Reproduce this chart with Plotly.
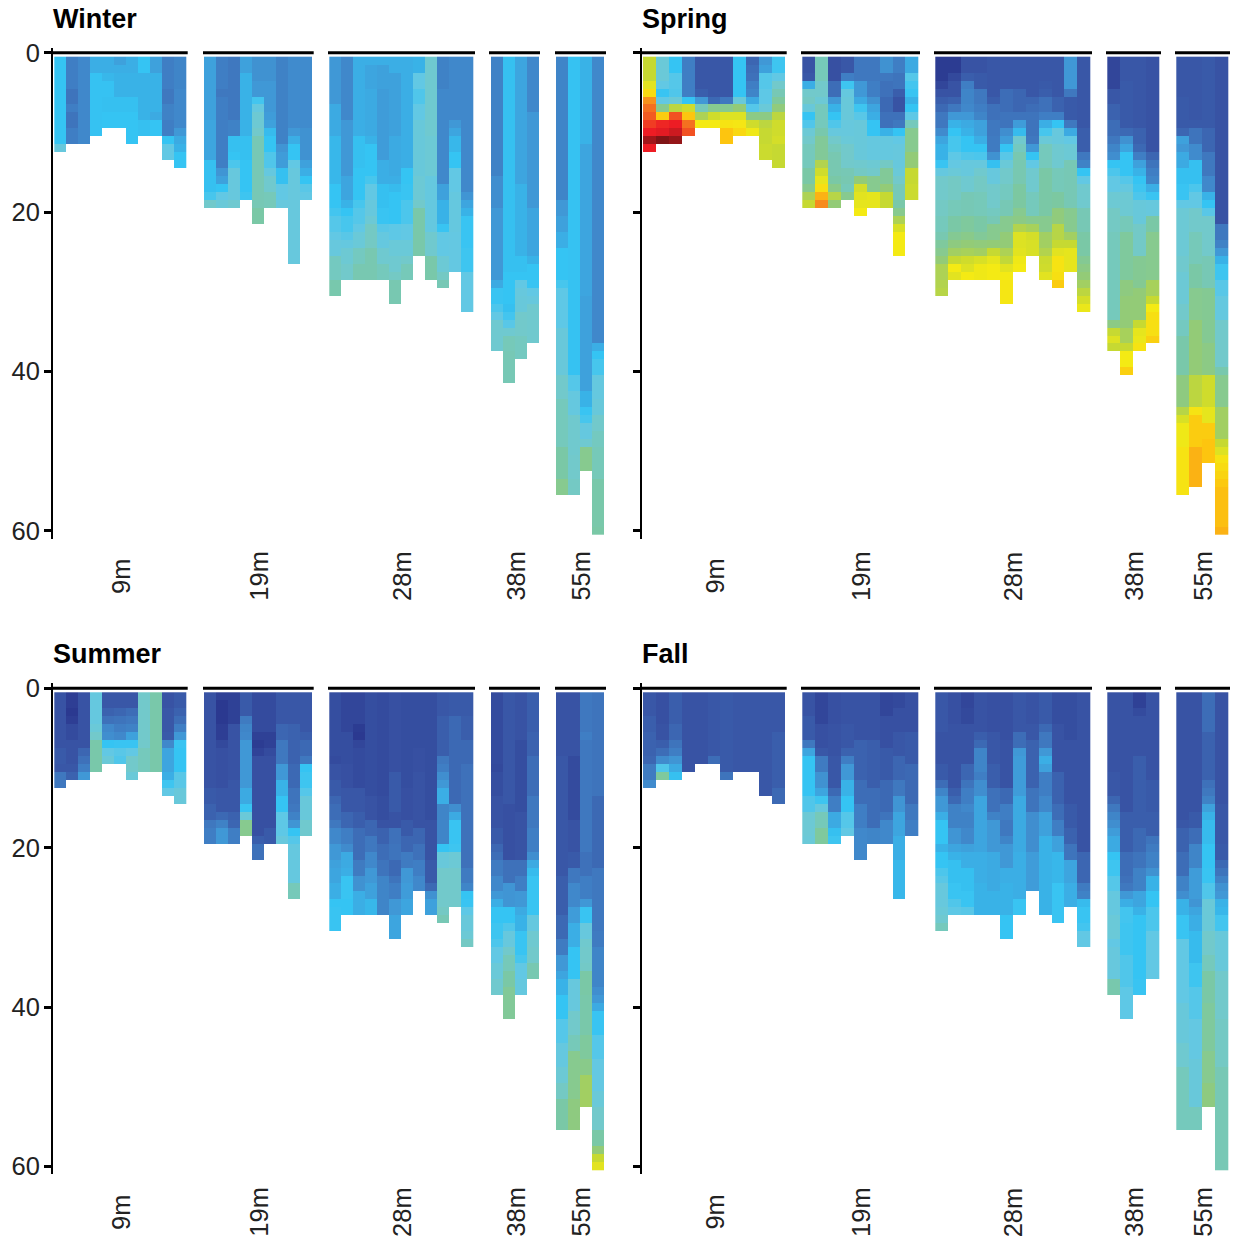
import plotly.graph_objects as go

# Each column is a list of (last_depth_row, level) runs.
GROUPS = ["9m", "19m", "28m", "38m", "55m"]
TICKS = [0, 20, 40, 60]
SEASONS = ["Winter", "Spring", "Summer", "Fall"]

WINTER_9M = [
 [(11,4),(12,5.3)],
 [(4,2.2),(6,1.9),(7,2.2),(9,1.9),(11,2.2)],
 [(11,2.5)],
 [(2,3.5),(10,3.95)],
 [(2,3.5),(3,3.7),(5,3.95),(7,3.9),(9,4)],
 [(1,3.2),(2,3.5),(5,3.6),(7,3.9),(9,4)],
 [(2,3.5),(5,3.6),(7,3.9),(11,4)],
 [(2,4),(8,3.6),(10,3.9)],
 [(2,3.2),(7,3.6),(8,3.4),(10,4)],
 [(4,2.2),(6,2),(8,2.3),(10,2.2),(11,4),(13,5)],
 [(4,2.4),(9,2.5),(10,3),(11,3.4),(12,3.6),(14,4)],
]
WINTER_19M = [
 [(8,3.2),(13,3.3),(17,3.9),(18,4.4),(19,6)],
 [(4,2.2),(5,2),(14,2.2),(15,2.9),(16,3.2),(17,4),(18,5),(19,5.5)],
 [(8,2),(10,2.3),(12,3.9),(13,4),(14,4.5),(18,5.3),(19,5.8)],
 [(2,3.2),(10,3.6),(13,3.9),(17,4),(18,4.2)],
 [(3,2.8),(5,3),(6,4.3),(7,5.2),(9,5.7),(10,6),(19,6.6),(21,7)],
 [(3,2.8),(7,3),(8,3.1),(9,3.2),(10,3.8),(12,4),(14,4.6),(15,5.2),(17,5.9),(19,6.5)],
 [(11,2.3),(12,2.9),(14,3.1),(16,3.9),(18,5),(19,5.3)],
 [(9,2.6),(10,3),(11,3.5),(13,4),(14,5),(26,5.3)],
 [(9,2.6),(13,2.8),(14,3.2),(15,3.5),(16,4),(17,4.8),(18,5)],
]
WINTER_28M = [
 [(6,3),(10,3.4),(16,3.7),(19,4),(20,4.3),(22,4.7),(23,5),(25,5.3),(28,6.3),(30,6.8)],
 [(8,2.5),(15,3),(18,3.3),(19,3.6),(20,4),(22,4.4),(23,4.8),(24,5.2),(26,5.7),(28,6)],
 [(10,3.5),(14,3.9),(18,4),(19,4.4),(21,4.7),(22,5),(24,5.5),(26,6.3),(28,6.7)],
 [(1,3.5),(4,3.3),(10,3.4),(11,3.6),(15,4),(16,4.4),(18,5),(20,5.3),(21,5.6),(24,6.2),(28,6.7)],
 [(1,3.5),(4,3.2),(13,3.1),(16,3.5),(19,3.9),(21,4.1),(22,4.8),(24,5.2),(26,5.8),(28,6.4)],
 [(2,3.5),(10,3.2),(15,3.4),(16,3.5),(17,3.8),(21,4),(23,4.9),(25,5.5),(27,5.8),(28,6.2),(31,6.7)],
 [(14,3.5),(16,4),(18,4.1),(21,4.5),(23,5),(25,5.5),(26,6),(28,6.5)],
 [(2,3.6),(4,5),(6,4.6),(8,5),(15,5.4),(18,5.6),(19,6),(25,6.9)],
 [(10,5.8),(15,5.6),(22,5.2),(25,5.9),(28,6.9)],
 [(4,2.3),(8,2.5),(16,2.5),(18,3.2),(21,3.6),(22,4.1),(25,5),(27,5.6),(28,6.2),(29,6.6)],
 [(8,2.5),(9,3),(10,3.3),(12,3.7),(14,4),(17,5),(22,5.2),(27,5.1)],
 [(17,2.5),(18,2.9),(19,3.3),(20,3.6),(24,4.1),(27,4.2),(32,5)],
]
WINTER_38M = [
 [(15,2.3),(19,2.7),(28,3),(29,3.4),(31,4.1),(32,4.5),(33,5),(37,5.8)],
 [(27,3.9),(31,4),(32,3.9),(33,4.3),(34,4.8),(35,5.8),(37,6.5),(41,6.6)],
 [(16,3.3),(25,3.6),(27,3.9),(28,4),(29,5),(30,5.3),(32,5.4),(35,6),(38,6.3)],
 [(7,2.5),(19,3),(25,3.3),(26,3.6),(28,4),(29,4.1),(30,5),(31,5.3),(36,5.9)],
]
WINTER_55M = [
 [(18,2.4),(20,3),(22,3.2),(24,3.5),(28,4),(29,4.4),(34,4.9),(40,5.4),(43,6),(49,6.4),(53,7),(55,7.5)],
 [(40,3.95),(42,4.7),(45,5.2),(50,5.9),(53,6),(55,6.2)],
 [(11,3.6),(30,3.3),(42,3.2),(44,3.6),(45,4.1),(46,4.4),(48,5.2),(49,5.8),(52,7.5)],
 [(36,2.5),(37,3.5),(38,4),(40,4.4),(43,5.2),(45,5.4),(47,6),(49,6.3),(53,6.5),(59,6.9),(60,7)],
]

SPRING_9M = [
 [(3,9),(4,9.6),(5,10.4),(6,11.8),(7,12.2),(8,12.4),(9,12.7),(10,13),(11,13.7),(12,13)],
 [(3,5.5),(4,5),(5,4.1),(6,5),(7,7.5),(8,10.8),(9,12.9),(10,13.1),(11,14)],
 [(2,4),(4,4.7),(5,4.6),(6,5.5),(7,8.8),(8,12.5),(9,13),(10,13.3),(11,13.8)],
 [(5,2.2),(6,4),(7,9.2),(8,11),(9,12.2),(10,12.5)],
 [(4,1.1),(5,1.3),(6,3),(7,6.5),(8,8.5),(9,10)],
 [(5,1.1),(6,1.6),(7,7.5),(8,9.2),(9,10)],
 [(5,1.1),(6,2),(7,7.5),(8,9.5),(9,10.2),(11,11)],
 [(5,4),(6,5.5),(7,8),(8,9.5),(9,10.1),(10,10.5)],
 [(1,1.5),(2,1.7),(3,1.8),(4,2.2),(5,2.4),(6,3.4),(7,4.7),(8,7.7),(9,9.2),(10,9.9)],
 [(1,3),(2,3.2),(4,4.7),(6,4.9),(7,5.5),(8,7.7),(9,8.8),(11,9),(13,9.1)],
 [(2,4.2),(3,5),(4,6),(5,6.6),(6,7.2),(7,7.9),(8,8.8),(10,9.2),(11,9.3),(14,9)],
]
SPRING_19M = [
 [(2,1),(3,1.1),(4,3.5),(5,6),(6,6.2),(7,5.4),(8,4),(9,4.6),(10,5.6),(11,6),(14,6.4),(16,7),(17,7.5),(18,8.5),(19,9)],
 [(3,6.5),(5,6),(6,5.6),(9,6.4),(10,6.8),(13,7.3),(14,8.6),(15,9.2),(16,9.7),(17,10.3),(18,11.3),(19,11.9)],
 [(3,0.9),(5,1.7),(6,3),(7,3.6),(8,4),(9,4.6),(10,5.3),(11,6),(12,6.4),(15,6.7),(16,7),(17,7.6),(18,8.7),(19,8)],
 [(2,1.1),(3,2.2),(4,4.2),(5,5.2),(8,5.4),(10,5.3),(11,5.5),(14,6),(15,6.6),(16,6.7),(17,6.5),(18,7.5)],
 [(3,2),(5,3),(6,3.4),(7,4.2),(8,4.8),(13,5.4),(14,5.9),(15,6.2),(16,8),(17,9.3),(18,9.6),(19,9.7),(20,10)],
 [(3,2),(5,2.2),(6,2.8),(7,3.3),(8,3.5),(10,4),(13,5.2),(14,5.7),(15,6),(17,7.5),(19,9.7)],
 [(2,2.8),(3,2),(5,1.8),(7,1.6),(9,1.8),(10,3.6),(13,5.2),(14,6.2),(16,7.3),(17,8),(19,9)],
 [(2,2.2),(4,1.9),(5,1.3),(7,1),(8,1.8),(9,2),(10,4),(11,5),(14,5.3),(15,5.5),(16,6),(18,6.5),(19,6.9),(20,7.5),(21,8.5),(22,9.4),(25,10)],
 [(2,3.4),(3,4.7),(4,4.3),(5,4.1),(6,3.6),(7,4),(8,4.9),(9,6.4),(12,7.5),(14,8),(16,9),(18,9.1)],
]
SPRING_28M = [
 [(3,0.1),(4,0.5),(5,1),(6,1.3),(7,1.6),(9,2),(10,2.6),(11,3.3),(13,3.6),(14,4.1),(15,5.2),(18,6),(20,6.2),(22,6.4),(23,6.7),(24,7.2),(25,7.5),(26,8),(28,8.5),(29,8.6),(30,8.7)],
 [(2,0.1),(3,0.6),(5,1),(6,1.4),(7,2),(8,3),(9,3.6),(10,4),(12,4.4),(13,4.9),(14,5.1),(15,5.5),(18,6.2),(20,6.5),(22,7),(23,7.4),(24,7.8),(25,8.3),(26,9),(27,10),(28,9.6)],
 [(2,1),(3,1.3),(4,2.2),(6,2.4),(7,2.5),(8,3),(9,3.4),(10,3.6),(12,4),(13,4.6),(15,5.3),(17,5.8),(20,6.6),(22,7.2),(23,7.6),(24,8),(25,8.4),(26,9.2),(27,9.5),(28,10)],
 [(2,1),(4,1.2),(6,2),(7,2.2),(8,2.4),(10,3.2),(11,3.5),(12,4),(13,4.5),(14,5.3),(15,5.9),(17,6.2),(20,6.5),(22,7),(23,7.3),(24,7.9),(25,8.3),(26,9.4),(28,9.9)],
 [(5,1.1),(6,1.3),(8,1.8),(10,2),(12,2.1),(13,2.8),(14,3.9),(16,5.3),(19,6),(20,6.3),(21,6.6),(23,7.5),(24,8),(25,9),(26,9.7),(28,10)],
 [(4,1.1),(7,1.7),(9,1.9),(10,2.7),(11,3.1),(12,4),(13,4.8),(14,5.5),(16,6),(18,6.3),(20,6.6),(22,7.5),(24,8),(25,8.5),(26,8.9),(27,9.6),(28,10),(31,10.1)],
 [(4,1.1),(7,1.5),(8,1.9),(9,3.1),(10,3.8),(11,5.9),(12,6.3),(16,6.7),(19,7.1),(20,7.5),(21,7.7),(22,8.6),(24,9.5),(25,9.6),(26,9.9),(27,10)],
 [(5,1.1),(6,1.5),(7,1.7),(10,1.9),(11,2),(12,3),(13,4),(14,5),(17,5.9),(20,6.4),(21,7.5),(22,8.4),(23,9.3),(25,9.4)],
 [(3,1.1),(4,1.2),(5,1.3),(7,1.8),(8,2.2),(9,3.5),(10,4.4),(11,5.5),(14,6.4),(20,7),(22,7.5),(24,8.3),(25,8.6),(26,9.1),(27,9.2),(28,9.6)],
 [(5,1.1),(7,1.4),(8,2.2),(9,4),(11,5.3),(14,5.8),(17,6.5),(19,7.1),(21,7.9),(23,8.7),(24,9),(25,9.6),(27,10.2),(28,10.3),(29,10.8)],
 [(4,3),(5,2),(8,1.2),(9,2),(10,3.4),(11,5),(13,5.6),(19,6.6),(22,7.5),(23,8.3),(24,9),(27,9.7)],
 [(9,1.1),(12,1.3),(13,2),(14,2.3),(15,4),(16,5),(19,5.9),(22,6.6),(25,7),(26,7.4),(27,7.7),(28,8),(29,8.3),(30,8.8),(31,9.3),(32,9.8)],
]
SPRING_38M = [
 [(4,0.5),(6,1.1),(8,1.4),(10,1.7),(11,2),(12,2.4),(13,2.7),(14,4),(15,4.5),(17,5),(19,5.7),(22,6.2),(33,6.4),(34,7.7),(35,9),(36,9.5),(37,9)],
 [(3,1.1),(9,1.2),(10,1.6),(11,2.8),(12,3.3),(15,4),(16,4.7),(17,5.2),(20,5.7),(22,6.5),(28,7.2),(30,7.8),(34,8),(36,8.4),(37,9),(39,10),(40,10.7)],
 [(9,1.1),(11,1.4),(12,1.6),(13,2.2),(14,3.2),(15,3.6),(16,4),(17,4.2),(18,4.5),(21,5.4),(25,6.1),(29,7.4),(33,8),(34,9),(35,9.7),(36,9.8),(37,10.2)],
 [(12,1),(13,1.5),(14,1.9),(15,2.2),(16,2.4),(17,3.5),(18,4.1),(20,5.3),(22,7),(28,7.5),(30,8.4),(31,9),(32,10),(35,10.3),(36,10.7)],
]
SPRING_55M = [
 [(5,1.1),(9,1.2),(10,1.5),(11,3.2),(12,3),(14,3.4),(16,3.9),(18,4.1),(19,5),(25,5.6),(27,5.9),(31,5.6),(33,6),(35,6.3),(40,6.9),(44,7.8),(45,8.7),(46,9.4),(49,9.9),(55,10.2)],
 [(8,1.1),(9,1.2),(11,1.9),(13,2.6),(16,3.9),(17,4.5),(19,5),(22,6),(26,6.5),(29,7),(33,7.5),(40,8),(44,8.8),(45,10.2),(49,10.8),(54,11.3)],
 [(9,1.2),(12,1.5),(15,2),(17,2.5),(18,3.6),(19,4),(20,4.8),(25,6),(29,6.6),(36,7.4),(40,7.7),(44,9.2),(46,9.7),(48,10.8),(51,11)],
 [(21,1),(23,2),(24,2.3),(25,3),(26,3.6),(28,4.2),(30,4.8),(33,5.2),(39,6),(40,6.8),(44,7.5),(48,8.3),(49,9),(50,9.5),(51,10.2),(52,10.4),(53,10.6),(54,10.9),(59,11.1),(60,11.3)],
]

SUMMER_9M = [
 [(7,1),(9,1.2),(10,1.1),(12,2)],
 [(2,0.2),(3,0),(4,0.2),(6,0.7),(9,1),(10,1.1),(11,1.4)],
 [(7,1),(8,1.5),(9,1.8),(10,2.2),(11,3)],
 [(4,5.2),(5,5.5),(6,6),(10,6.9)],
 [(2,1.1),(3,1.4),(4,1.8),(5,2.5),(6,2.7),(7,4),(8,5),(9,5.5)],
 [(2,1.1),(3,1.5),(4,1.9),(5,2.2),(6,2.5),(7,4.1),(8,4.8),(9,4.6)],
 [(2,1.1),(3,1.7),(4,2),(5,2.3),(6,3.2),(7,4.1),(8,5),(10,6),(11,5.5)],
 [(7,6),(10,6.4)],
 [(10,6.9)],
 [(2,1),(5,1.1),(6,1.2),(7,2.5),(10,3.3),(11,3.5),(12,4.2),(13,5)],
 [(2,1.2),(3,1.4),(4,1.7),(5,2.2),(6,3),(7,4.1),(10,4),(12,4.8),(14,5.4)],
]
SUMMER_19M = [
 [(12,1),(14,1.2),(16,1.4),(17,2),(19,2.2)],
 [(1,0.3),(4,0),(6,0.2),(7,0.6),(12,0.9),(15,1.1),(16,1.6),(17,2.3),(19,3)],
 [(4,0.3),(11,1),(15,1.1),(16,1.4),(17,1.5),(19,2.2)],
 [(3,1.2),(4,2.1),(5,2.4),(6,2.5),(12,3),(14,3.4),(15,4.1),(16,5.5),(18,7.5)],
 [(5,0.7),(6,0.3),(7,0.1),(8,0.4),(18,0.9),(19,1.3),(21,1.8)],
 [(5,0.7),(7,0.3),(8,0.7),(17,0.9),(19,1.2)],
 [(4,1.1),(6,1.5),(9,2),(11,3),(13,3.6),(15,4),(18,4.9),(19,5.3)],
 [(4,1.1),(9,1.4),(12,1.6),(14,1.9),(15,2),(16,2.3),(17,2.9),(18,4),(19,4.7),(24,5.2),(26,6.5)],
 [(5,1.1),(6,1.3),(8,1.6),(9,2),(10,4),(12,4.2),(13,4.7),(16,5.4),(18,5.9)],
]
SUMMER_28M = [
 [(8,0.8),(9,0.7),(11,1),(13,1.2),(14,1.5),(16,1.7),(17,2),(19,2.5),(21,3),(22,3.2),(24,3.3),(26,3.5),(27,4),(30,4.1)],
 [(5,0.5),(9,0.8),(12,0.9),(15,1.1),(17,1.5),(19,2.2),(20,2.6),(22,3.4),(23,3.5),(26,4.1),(28,4)],
 [(4,0.5),(5,0.1),(6,0),(7,0.5),(12,0.7),(15,1.1),(17,1.3),(21,1.7),(23,2.1),(25,2.8),(28,3.5)],
 [(13,0.8),(16,1),(18,1.5),(20,2),(22,2.5),(24,3),(26,3.2),(28,3.7)],
 [(13,0.7),(16,0.8),(17,1),(19,1.4),(21,1.7),(23,1.9),(28,2.4)],
 [(10,0.9),(15,1.2),(17,1),(19,1.8),(21,1.9),(23,1.6),(24,1.9),(26,2.2),(28,3),(31,3.3)],
 [(12,0.8),(16,0.9),(18,1.2),(20,1.5),(22,2.1),(24,3),(26,3.1),(28,3.3)],
 [(7,0.8),(10,0.9),(17,1),(19,1.5),(21,1.8),(23,2.2),(25,2.5)],
 [(16,0.8),(21,1),(24,1.2),(25,1.6),(26,2.8),(28,3.2)],
 [(3,1.1),(8,1.3),(9,2),(10,2.2),(11,2.7),(12,3),(14,3.5),(19,2.4),(20,4),(22,5.4),(27,6),(28,6.2),(29,6.6)],
 [(3,1.2),(14,1.6),(15,2.7),(16,3.4),(19,4.1),(20,4.2),(22,5.6),(27,6)],
 [(3,1.2),(6,1.3),(9,1.6),(22,1.8),(24,2.1),(25,2.4),(26,4),(27,4.1),(28,4.9),(30,5.4),(31,5.6),(32,6.2)],
]
SUMMER_38M = [
 [(9,0.7),(10,0.6),(13,0.8),(17,1),(19,1.2),(20,1.5),(21,1.7),(23,2.1),(25,2.5),(26,3),(27,3.5),(29,4),(31,4.2),(32,4.5),(34,5),(36,5.5),(38,5.9)],
 [(14,1.1),(21,0.9),(24,1.8),(27,2.9),(29,4),(30,4.6),(32,5.3),(33,6),(35,6.5),(37,7),(41,7.3)],
 [(6,1),(15,0.8),(21,1),(23,1.8),(25,2.2),(27,3),(28,3.4),(30,3.6),(33,4.1),(34,4.4),(36,5),(38,5.2)],
 [(5,1.3),(8,1.4),(13,1.7),(17,2),(20,2.2),(21,2.7),(22,3.4),(23,3.8),(28,4.1),(30,5.2),(32,5.8),(34,6),(36,6.7)],
]
SUMMER_55M = [
 [(8,1),(23,1.1),(28,1.3),(31,1.6),(33,2.1),(35,3),(36,3.3),(38,3.6),(41,4),(44,4.7),(47,5.2),(49,5.6),(51,6.2),(55,7)],
 [(8,1),(16,0.7),(20,1),(22,1.2),(24,2),(27,2.5),(29,3.1),(32,3.5),(36,4),(40,5.3),(43,6),(45,6.5),(51,7.5),(55,7.8)],
 [(5,2),(6,2.2),(20,2),(23,1.8),(26,2.2),(27,3),(29,4.1),(31,5.3),(32,5.9),(34,6),(35,6.1),(38,7),(43,6.9),(46,7.2),(48,7.6),(52,8.3)],
 [(13,1.9),(22,1.6),(30,2),(32,2.1),(37,2.4),(38,2.7),(39,3),(40,3.4),(43,4.1),(46,4.7),(50,5.1),(52,5.5),(55,6),(57,7),(58,8),(59,9),(60,9.6)],
]

FALL_9M = [
 [(3,1.1),(5,1.3),(8,1.4),(9,1.5),(11,2.1),(12,2.6)],
 [(4,0.9),(6,1),(7,1.3),(8,1.7),(9,2.6),(10,4.6),(11,7.2)],
 [(4,1.3),(6,1.5),(7,1.9),(8,2.2),(9,2.9),(10,3.4),(11,3.9)],
 [(10,1)],
 [(9,1)],
 [(8,1.1),(9,1.7)],
 [(10,1.2),(11,1.9)],
 [(10,1.1)],
 [(10,1.1)],
 [(13,1.1)],
 [(5,1.1),(12,1.3),(14,1.6)],
]
FALL_19M = [
 [(3,1),(6,1.2),(7,2),(8,3.3),(13,4),(15,4.6),(18,5.6),(19,5.5)],
 [(4,0.5),(7,0.9),(8,1.1),(10,2.1),(12,2.8),(13,3.3),(14,4.2),(15,5.3),(17,6.5),(19,7.2)],
 [(4,0.9),(8,1),(12,1.1),(13,1.6),(15,2.2),(17,3.4),(18,3.9),(19,4.2)],
 [(4,1),(7,1.1),(8,1.4),(9,2.2),(11,3),(13,3.6),(15,4),(17,4.7),(18,5)],
 [(6,1),(11,1.4),(14,1.7),(17,2.2),(21,2.5)],
 [(6,1),(12,1.3),(17,1.7),(19,2.4)],
 [(3,0.5),(7,0.9),(11,1.2),(15,1.6),(16,1.9),(19,2.5)],
 [(2,0.6),(5,0.9),(8,1.1),(11,1.5),(13,2),(15,2.9),(18,3.3),(21,3.5),(26,3.7)],
 [(5,0.9),(9,1.2),(14,1.6),(16,2),(18,2.2)],
]
FALL_28M = [
 [(5,1.1),(9,1),(11,1.2),(12,1.7),(13,2.4),(15,3),(16,3.5),(19,4),(20,3.6),(22,4),(23,4.5),(24,4.8),(27,5.3),(28,5.5),(29,5.8),(30,6.4)],
 [(4,0.9),(12,1),(13,1.3),(14,1.6),(17,2.3),(19,2.9),(20,3.3),(21,3.6),(24,3.9),(26,4.1),(27,4.6),(28,4.9)],
 [(2,0.5),(4,0.6),(9,1),(11,1.5),(12,1.9),(14,2.2),(15,2.5),(17,2.3),(19,2.5),(20,3.2),(22,3.5),(25,3.9),(27,4.1),(28,4.8)],
 [(5,1),(6,1.3),(7,1.6),(10,2.4),(11,2.2),(13,2.7),(20,3.3),(24,3.5),(28,3.6)],
 [(5,0.9),(9,1.1),(12,1.3),(15,1.8),(16,2.3),(20,3),(25,3.4),(28,3.6)],
 [(6,0.9),(12,1),(14,1.6),(16,2.2),(18,2),(19,2.4),(22,3),(24,3.5),(28,3.6),(31,4)],
 [(5,1.1),(7,1.7),(8,3),(13,3.1),(20,3.4),(26,3.5),(28,4.1)],
 [(4,1),(6,1.1),(12,1.4),(15,1.9),(20,2.7),(25,3.1)],
 [(4,1.2),(5,1.6),(7,2),(8,3),(9,3.5),(10,3.2),(13,2.2),(15,2.5),(18,3.2),(28,3.6)],
 [(4,0.8),(10,1),(14,1.4),(16,1.7),(18,2.2),(20,3.2),(24,3.7),(29,4.1)],
 [(6,0.8),(14,1),(17,1.2),(19,1.4),(21,1.9),(24,3.3),(27,3.5)],
 [(20,1),(24,1.5),(25,2.1),(26,2.3),(27,3.8),(29,4.1),(30,4.3),(32,5)],
]
FALL_38M = [
 [(10,1),(13,1.1),(14,1.5),(15,2),(16,2.4),(17,2.7),(18,3.1),(20,3.4),(21,4),(23,4.2),(25,4.7),(28,5.2),(31,5.5),(32,5),(36,5.3),(38,6.8)],
 [(15,1),(20,1.3),(23,1.7),(24,1.8),(25,2),(26,3),(27,3.5),(29,4.3),(33,4.2),(37,4.6),(41,4.9)],
 [(2,0.3),(3,0.7),(8,1),(17,1.3),(20,1.6),(22,1.9),(25,2.3),(27,3.3),(28,3.6),(36,4),(38,4.1)],
 [(11,1),(15,1.2),(18,1.3),(19,1.9),(20,2.1),(22,2.3),(23,2.8),(25,3.6),(27,4),(30,4.5),(36,5)],
]
FALL_55M = [
 [(16,1),(17,1.1),(20,1.4),(23,1.7),(25,2.3),(26,2.7),(28,3.6),(31,4.1),(39,5),(44,5.4),(47,5.8),(55,6.4)],
 [(15,1),(17,1.2),(19,1.7),(22,2.4),(26,3.1),(27,2.9),(28,3.3),(30,3.5),(34,3.8),(37,4.2),(41,4.7),(46,5.1),(52,5.4),(55,6.4)],
 [(5,1.7),(11,1.4),(12,1.8),(13,2),(14,2.3),(15,3.2),(16,3.6),(19,3.8),(22,4),(24,4.1),(26,4.6),(30,5.5),(33,6),(35,6.4),(39,7),(45,7.2),(49,7.5),(52,7.8)],
 [(14,1),(19,1.1),(21,1.2),(22,1.6),(23,1.9),(24,2.3),(25,2.8),(26,3),(27,3.6),(28,3.7),(30,4.3),(35,5.4),(41,6),(47,6.2),(60,6.6)],
]

PANEL_DATA = [
 [WINTER_9M, WINTER_19M, WINTER_28M, WINTER_38M, WINTER_55M],
 [SPRING_9M, SPRING_19M, SPRING_28M, SPRING_38M, SPRING_55M],
 [SUMMER_9M, SUMMER_19M, SUMMER_28M, SUMMER_38M, SUMMER_55M],
 [FALL_9M, FALL_19M, FALL_28M, FALL_38M, FALL_55M],
]

COLORS = ["#2b3990", "#3853a4", "#3f78bf", "#4098d6", "#35c4f3", "#62c8e4", "#72c9cb",
          "#7ac8a6", "#93cb77", "#c6d932", "#f4ea14", "#fdc50f", "#f6851f", "#ed1c24", "#7f1416"]
COLORSCALE = [[i / (len(COLORS) - 1), c] for i, c in enumerate(COLORS)]

# Layout, in page pixels
W, H = 1233, 1242
LEFT = {"narrow": (53, 610, 12.03, [54.3, 204, 329.3, 491, 556],
                   [(51.7, 187.7), (203, 313.7), (328, 475), (489, 540), (555, 606)]),
        "wide": (642, 1233, 12.92, [643, 802.3, 935.3, 1107.3, 1176.3],
                 [(642, 786.7), (801, 920), (934, 1092), (1106, 1161), (1175, 1230)])}
PANELS = [("narrow", 52.7, 48, 539, 576, 19),
          ("wide", 52.7, 48, 539, 576, 19),
          ("narrow", 688.3, 683, 1174, 1212, 654),
          ("wide", 688.3, 683, 1174, 1212, 654)]
PX_PER_M = 7.97
ROWS = list(range(1, 61))


def expand(runs):
    out = [None] * len(ROWS)
    start = 0
    for end, value in runs:
        for i in range(start, end):
            out[i] = value
        start = end
    return out


fig = go.Figure()
shapes, annotations, axes = [], [], {}
for p, (kind, y0, ytop, ybot, label_y, title_y) in enumerate(PANELS):
    xl, xr, cell, starts, bars = LEFT[kind]
    sfx = "" if p == 0 else str(p + 1)
    xa, ya = "x" + sfx, "y" + sfx
    for g, cols in enumerate(PANEL_DATA[p]):
        zcols = [expand(c) for c in cols]
        z = [[col[r] for col in zcols] for r in range(len(ROWS))]
        xs = [starts[g] + cell * (i + 0.5) for i in range(len(cols))]
        fig.add_trace(go.Heatmap(z=z, x=xs, y=ROWS, xaxis=xa, yaxis=ya,
                                 colorscale=COLORSCALE, zmin=0, zmax=14,
                                 showscale=False, hoverongaps=False))
        shapes.append(dict(type="line", xref=xa, yref=ya, x0=bars[g][0], x1=bars[g][1],
                           y0=0, y1=0, line=dict(color="black", width=3), layer="above"))
        center = starts[g] + cell * len(cols) / 2
        annotations.append(dict(x=center + 0.5, xref=xa, y=1 - label_y / H, yref="paper",
                                xanchor="center", yanchor="middle",
                                text=GROUPS[g], showarrow=False, textangle=-90,
                                font=dict(size=25.5, color="#222222",
                                          family="Liberation Sans")))
    annotations.append(dict(x=(xl - 2) / W, xref="paper", y=1 - title_y / H, yref="paper",
                            xanchor="left", yanchor="middle",
                            text="<b>%s</b>" % SEASONS[p], showarrow=False,
                            font=dict(size=27, color="black", family="Liberation Sans")))
    axes["xaxis" + sfx] = dict(domain=[xl / W, xr / W], range=[xl, xr], visible=False,
                               anchor=ya, fixedrange=True, automargin=False)
    axes["yaxis" + sfx] = dict(domain=[1 - ybot / H, 1 - ytop / H],
                               range=[(ybot - y0) / PX_PER_M, (ytop - y0) / PX_PER_M],
                               anchor=xa, tickvals=TICKS, ticks="outside", ticklen=7,
                               tickwidth=2.5, tickcolor="black", showline=True,
                               linecolor="black", linewidth=2, showgrid=False, zeroline=False,
                               showticklabels=(p % 2 == 0), ticklabelstandoff=-1,
                               automargin=False,
                               tickfont=dict(size=25.5, color="#222222",
                                             family="Liberation Sans"),
                               fixedrange=True)

fig.update_layout(width=W, height=H, margin=dict(l=0, r=0, t=0, b=0, pad=0, autoexpand=False),
                  paper_bgcolor="white", plot_bgcolor="white",
                  shapes=shapes, annotations=annotations, **axes)
fig.write_html("out.html", config={"displayModeBar": False},
               post_script="document.body.style.margin='0';document.body.style.overflow='hidden';")
